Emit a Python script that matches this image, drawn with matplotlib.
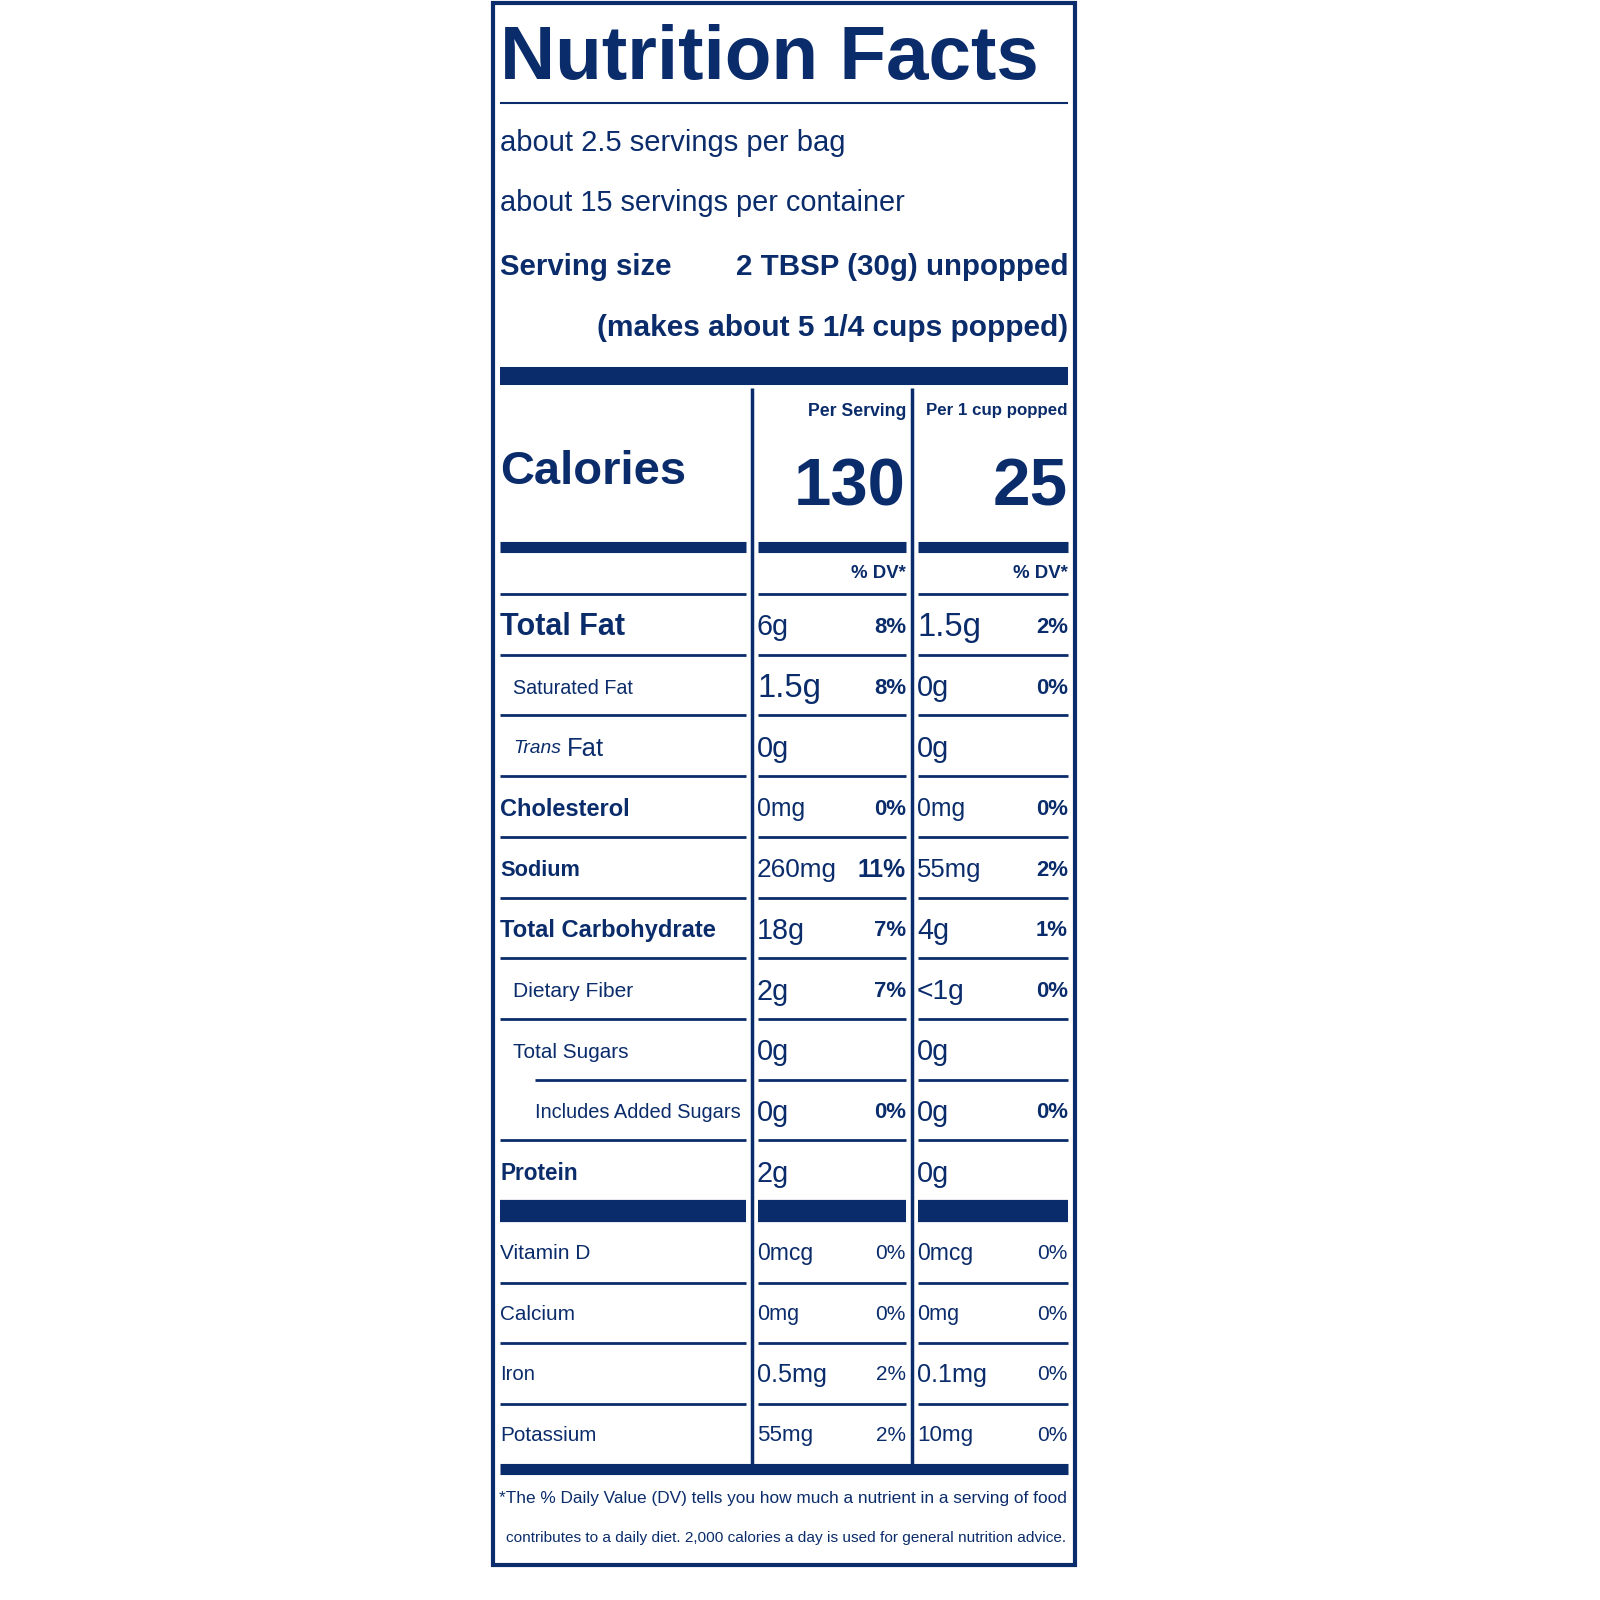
import matplotlib
matplotlib.use("Agg")
import matplotlib.pyplot as plt
from matplotlib import font_manager

NAVY = "#0b2c6b"
names = {f.name for f in font_manager.fontManager.ttflist}
FONT = "Liberation Sans Narrow" if "Liberation Sans Narrow" in names else "Liberation Sans"

# ── data ─────────────────────────────────────────────────────────────────────
servings = ["about 2.5 servings per bag", "about 15 servings per container"]
serving_size = "2 TBSP (30g) unpopped"
serving_note = "(makes about 5 1/4 cups popped)"
col_heads = ["Per Serving", "Per 1 cup popped"]
calories = ["130", "25"]

# (label, bold, indent, italic_prefix, amt1, pct1, amt2, pct2)
nutrients = [
    ("Total Fat", True, 0, "", "6g", "8%", "1.5g", "2%"),
    ("Saturated Fat", False, 1, "", "1.5g", "8%", "0g", "0%"),
    ("Fat", False, 1, "Trans", "0g", "", "0g", ""),
    ("Cholesterol", True, 0, "", "0mg", "0%", "0mg", "0%"),
    ("Sodium", True, 0, "", "260mg", "11%", "55mg", "2%"),
    ("Total Carbohydrate", True, 0, "", "18g", "7%", "4g", "1%"),
    ("Dietary Fiber", False, 1, "", "2g", "7%", "<1g", "0%"),
    ("Total Sugars", False, 1, "", "0g", "", "0g", ""),
    ("Includes Added Sugars", False, 2, "", "0g", "0%", "0g", "0%"),
    ("Protein", True, 0, "", "2g", "", "0g", ""),
]
vitamins = [
    ("Vitamin D", "0mcg", "0%", "0mcg", "0%"),
    ("Calcium", "0mg", "0%", "0mg", "0%"),
    ("Iron", "0.5mg", "2%", "0.1mg", "0%"),
    ("Potassium", "55mg", "2%", "10mg", "0%"),
]
footnote = ["*The % Daily Value (DV) tells you how much a nutrient in a serving of food",
            "contributes to a daily diet. 2,000 calories a day is used for general nutrition advice."]

fig = plt.figure(figsize=(16, 16), dpi=100)
ax = fig.add_axes([0, 0, 1, 1])
ax.set_xlim(0, 1600)
ax.set_ylim(1600, 0)
ax.axis("off")
renderer = fig.canvas.get_renderer()


def put(x, y, s, size, bold=False, ha="left", width=None, italic=False):
    t = ax.text(x, y, s, fontsize=size, color=NAVY, family=FONT, ha=ha, va="center",
                fontweight="bold" if bold else "normal",
                fontstyle="italic" if italic else "normal")
    if width:
        bb = t.get_window_extent(renderer)
        if bb.width > width:
            t.set_fontsize(size * width / bb.width)
    return t


def hline(y, x0, x1, lw=2):
    ax.plot([x0, x1], [y, y], color=NAVY, lw=lw, solid_capstyle="butt")


def vline(x, y0, y1, lw=2):
    ax.plot([x, x], [y0, y1], color=NAVY, lw=lw, solid_capstyle="butt")


L, R = 500, 1068
C1, C2 = 752, 912
# frame
ax.add_patch(plt.Rectangle((493, 3), 582, 1562, fill=False, ec=NAVY, lw=3))

put(L, 60, "Nutrition Facts", 68, bold=True, width=540)
hline(103, L, R, 1.5)
put(L, 143, servings[0], 34, width=345)
put(L, 203, servings[1], 34, width=405)
put(L, 267, "Serving size", 34, bold=True, width=172)
put(R, 267, serving_size, 34, bold=True, ha="right", width=332)
put(R, 328, serving_note, 34, bold=True, ha="right", width=472)
hline(376, L, R, 13)

vline(C1, 388, 1465, 2.5)
vline(C2, 388, 1465, 2.5)
put(906, 411, col_heads[0], 18, bold=True, ha="right", width=98)
put(R, 411, col_heads[1], 18, bold=True, ha="right", width=142)
put(L, 472, "Calories", 60, bold=True, width=186)
put(906, 488, calories[0], 90, bold=True, ha="right", width=112)
put(R, 488, calories[1], 90, bold=True, ha="right", width=75)

segs = [(L, 746), (758, 906), (918, R)]
for a, b in segs:
    hline(547, a, b, 8)
put(906, 573, "% DV*", 18, bold=True, ha="right", width=55)
put(R, 573, "% DV*", 18, bold=True, ha="right", width=55)
for a, b in segs:
    hline(594, a, b, 2)

FS = 26
row_h = 60.7
y0 = 594
for i, (lab, bold, ind, ital, a1, p1, a2, p2) in enumerate(nutrients):
    yc = y0 + row_h * (i + 0.55)
    x = L + [0, 13, 35][ind]
    if ital:
        t = put(x, yc, ital, FS, italic=True, width=48)
        bb = t.get_window_extent(renderer)
        x = ax.transData.inverted().transform((bb.x1, 0))[0] + 6
    put(x, yc, lab, FS, bold=bold, width=[125, 120, 37, 130, 80, 216, 120, 115, 205, 78][i])
    put(757, yc, a1, FS, width=16 * len(a1))
    put(906, yc, p1, FS, bold=True, ha="right", width=16 * len(p1))
    put(917, yc, a2, FS, width=16 * len(a2))
    put(R, yc, p2, FS, bold=True, ha="right", width=16 * len(p2))
    if i < len(nutrients) - 1:
        ybot = y0 + row_h * (i + 1)
        nxt = nutrients[i + 1][2]
        hline(ybot, L + (35 if nxt == 2 else 0), 746)
        hline(ybot, 758, 906)
        hline(ybot, 918, R)

for a, b in segs:
    hline(1211, a, b, 16)

v0 = 1222
for i, (lab, a1, p1, a2, p2) in enumerate(vitamins):
    yc = v0 + row_h * (i + 0.52)
    put(L, yc, lab, FS, width=[90, 75, 35, 96][i])
    put(757, yc, a1, FS, width=14 * len(a1))
    put(906, yc, p1, FS, ha="right", width=30)
    put(917, yc, a2, FS, width=14 * len(a2))
    put(R, yc, p2, FS, ha="right", width=30)
    if i < len(vitamins) - 1:
        ybot = v0 + row_h * (i + 1)
        for a, b in segs:
            hline(ybot, a, b)

hline(1469, L, R, 8)
put(783, 1498, footnote[0], 20, ha="center", width=566)
put(786, 1538, footnote[1], 20, ha="center", width=560)

fig.savefig("out.png", dpi=100)
